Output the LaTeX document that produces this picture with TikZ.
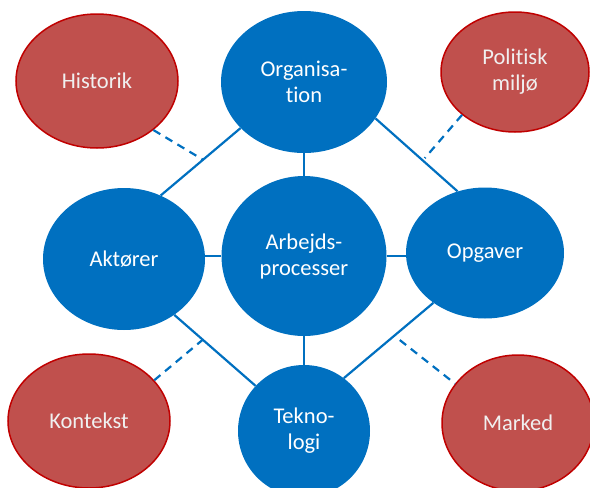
\documentclass[tikz,border=0pt]{standalone}
\usepackage{fontspec}
\setmainfont{Carlito}[Ligatures={NoCommon}]
\usetikzlibrary{shapes.geometric}
\definecolor{blu}{HTML}{0070C0}
\definecolor{redfill}{HTML}{C0504D}
\definecolor{redline}{HTML}{C00000}
\begin{document}
\begin{tikzpicture}[x=1pt,y=-1pt,
  bnode/.style={ellipse, fill=blu, text=white, inner sep=0pt, align=center,
    font=\fontsize{22.5}{26}\selectfont},
  rnode/.style={ellipse, fill=redfill, draw=redline, line width=1.5pt,
    text=white!94!black, inner sep=0pt, align=center,
    font=\fontsize{22.5}{26}\selectfont},
  link/.style={draw=blu, line width=2.2pt},
  dlink/.style={draw=blu, line width=2.2pt, dash pattern=on 8pt off 6pt}]
\useasboundingbox (0,0) rectangle (590,488);
\clip (0,0) rectangle (590,488);
% blue nodes
\node[bnode, minimum width=166pt, minimum height=142pt] (org) at (304,82) {Organisa-\\tion};
\node[bnode, minimum width=165pt, minimum height=160pt] (arb) at (304,256) {Arbejds-\\processer};
\node[bnode, minimum width=162pt, minimum height=142pt] (akt) at (124,259) {Aktører};
\node[bnode, minimum width=158pt, minimum height=131pt] (opg) at (485,253) {Opgaver};
\node[bnode, minimum width=132pt, minimum height=132pt] (tek) at (304,431) {Tekno-\\logi};
% red nodes
\node[rnode, minimum width=162pt, minimum height=134pt] (hist) at (97,81) {Historik};
\node[rnode, minimum width=148pt, minimum height=120pt] (pol) at (515,72) {Politisk\\miljø};
\node[rnode, minimum width=162pt, minimum height=134pt] (kon) at (89,421) {Kontekst};
\node[rnode, minimum width=152pt, minimum height=136pt] (mar) at (518,423) {Marked};
% solid connectors
\draw[link] (akt.60) -- coordinate[pos=0.53] (m1) (org.216);
\draw[link] (org.333) -- coordinate[pos=0.6] (m2) (opg.114);
\draw[link] (akt.312) -- coordinate[pos=0.35] (m3) (tek.137);
\draw[link] (opg.224) -- coordinate[pos=0.375] (m4) (tek.53);
\draw[link] (org.south) -- (arb.north);
\draw[link] (arb.west) -- (arb.west -| akt.east);
\draw[link] (arb.east) -- (arb.east -| opg.west);
\draw[link] (arb.south) -- (tek.north);
% dashed connectors
\coordinate (m2d) at ([yshift=4pt]m2);
\coordinate (m4d) at ([yshift=-9pt]m4);
\draw[dlink] (hist.319) -- (m1);
\draw[dlink] (pol.219) -- (m2d);
\draw[dlink] (kon.32) -- (m3);
\draw[dlink] (m4d) -- (mar.148);
\end{tikzpicture}
\end{document}
